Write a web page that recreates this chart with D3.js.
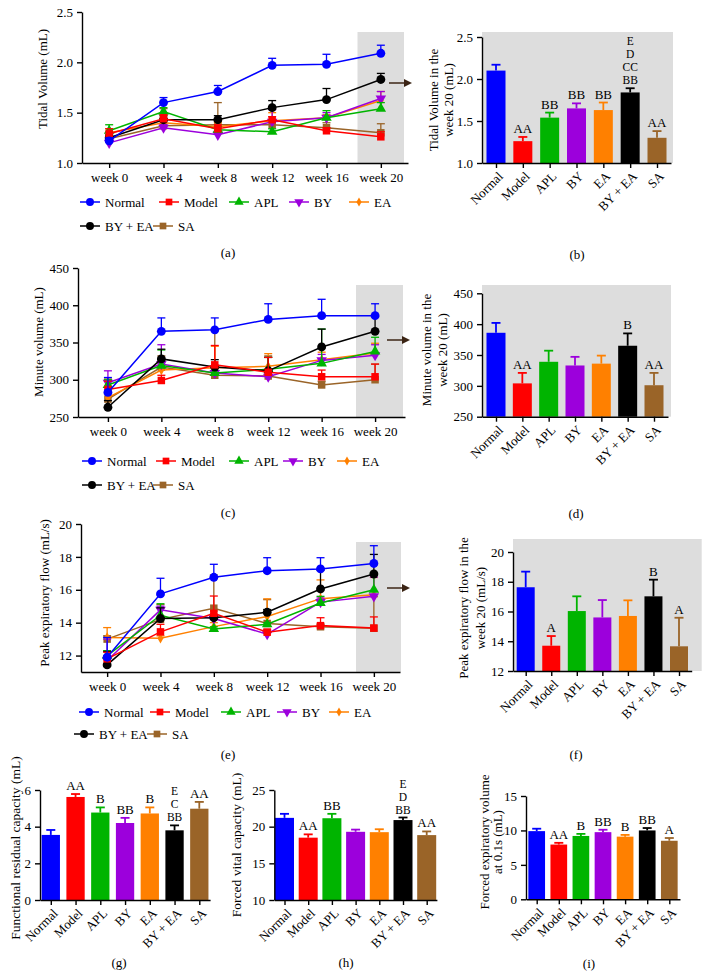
<!DOCTYPE html>
<html><head><meta charset="utf-8">
<script src="https://cdn.jsdelivr.net/npm/d3@7"></script>
<style>body{margin:0;background:#fff}</style>
</head><body><svg id="c" width="710" height="978"></svg>
<script>
// ---------------- DATA ----------------
const groups = ["Normal", "Model", "APL", "BY", "EA", "BY + EA", "SA"];
const groupColors = ["#0000ff", "#ff0000", "#00b400", "#9c00dc", "#ff8000", "#000000", "#9a6428"];
const weeks = ["week 0", "week 4", "week 8", "week 12", "week 16", "week 20"];

// (a) Tidal volume over time: rows = groups, cols = weeks
const tvMeans = [
  [1.22, 1.60, 1.71, 1.97, 1.98, 2.09],
  [1.29, 1.44, 1.34, 1.43, 1.32, 1.26],
  [1.32, 1.51, 1.33, 1.31, 1.45, 1.54],
  [1.20, 1.35, 1.28, 1.41, 1.45, 1.64],
  [1.30, 1.40, 1.36, 1.42, 1.45, 1.62],
  [1.25, 1.43, 1.43, 1.55, 1.63, 1.83],
  [1.24, 1.37, 1.38, 1.38, 1.35, 1.30]
];
const tvUpper = [
  [1.25, 1.65, 1.77, 2.04, 2.08, 2.17],
  [1.34, 1.48, 1.38, 1.46, 1.35, 1.31],
  [1.38, 1.55, 1.36, 1.34, 1.52, 1.60],
  [1.24, 1.38, 1.31, 1.53, 1.50, 1.71],
  [1.34, 1.44, 1.40, 1.50, 1.48, 1.71],
  [1.28, 1.47, 1.47, 1.62, 1.74, 1.89],
  [1.27, 1.54, 1.60, 1.42, 1.40, 1.39]
];
// (c) Minute volume over time
const mvMeans = [
  [283, 365, 367, 381, 386, 386],
  [287, 299, 320, 310, 304, 304],
  [293, 319, 309, 314, 322, 338],
  [296, 321, 309, 304, 326, 333],
  [276, 313, 316, 318, 327, 336],
  [263, 328, 317, 312, 344, 365],
  [274, 317, 306, 305, 293, 300]
];
const mvUpper = [
  [303, 383, 383, 402, 408, 402],
  [298, 306, 346, 330, 313, 321],
  [300, 340, 316, 330, 368, 357],
  [312, 347, 316, 310, 334, 347],
  [290, 324, 345, 335, 337, 349],
  [272, 341, 327, 330, 368, 385],
  [301, 332, 367, 332, 298, 321]
];
// (e) Peak expiratory flow over time
const pefMeans = [
  [11.90, 15.75, 16.76, 17.16, 17.27, 17.60],
  [11.80, 13.44, 14.57, 13.42, 13.82, 13.67],
  [12.00, 14.45, 13.62, 13.90, 15.20, 16.00],
  [11.70, 14.78, 14.25, 13.30, 15.25, 15.60],
  [13.10, 13.05, 13.76, 14.38, 15.46, 15.70],
  [11.43, 14.25, 14.30, 14.63, 16.05, 16.96],
  [13.00, 14.20, 14.88, 13.95, 13.75, 13.66]
];
const pefUpper = [
  [13.10, 16.70, 17.55, 17.95, 17.95, 18.68],
  [12.20, 13.90, 15.62, 13.60, 14.30, 14.35],
  [12.30, 15.15, 13.75, 14.00, 15.60, 17.00],
  [13.00, 15.00, 14.40, 13.50, 15.50, 16.77],
  [13.70, 13.20, 14.00, 15.45, 16.60, 16.75],
  [12.25, 14.90, 14.50, 14.80, 17.20, 18.15],
  [13.20, 15.10, 16.90, 15.40, 13.90, 15.58]
];
// (b) Tidal volume week 20
const tv20Mean = [2.10, 1.26, 1.54, 1.65, 1.63, 1.84, 1.30];
const tv20Upper = [2.17, 1.31, 1.60, 1.71, 1.72, 1.89, 1.38];
const tv20Sig = [[], ["AA"], ["BB"], ["BB"], ["BB"], ["BB", "CC", "D", "E"], ["AA"]];
// (d) Minute volume week 20
const mv20Mean = [386, 304, 339, 333, 336, 365, 301];
const mv20Upper = [402, 321, 357, 347, 349, 385, 321];
const mv20Sig = [[], ["AA"], [], [], [], ["B"], ["AA"]];
// (f) Peak expiratory flow week 20
const pef20Mean = [17.63, 13.70, 16.03, 15.60, 15.70, 17.02, 13.66];
const pef20Upper = [18.68, 14.35, 17.02, 16.77, 16.75, 18.14, 15.58];
const pef20Sig = [[], ["A"], [], [], [], ["B"], ["A"]];
// (g) Functional residual capacity
const frcMean = [3.55, 5.62, 4.77, 4.20, 4.72, 3.80, 4.98];
const frcUpper = [3.82, 5.78, 5.05, 4.48, 5.05, 4.07, 5.35];
const frcSig = [[], ["AA"], ["B"], ["BB"], ["B"], ["BB", "C", "E"], ["AA"]];
// (h) Forced vital capacity
const fvcMean = [21.20, 18.50, 21.15, 19.30, 19.25, 20.90, 18.85];
const fvcUpper = [21.75, 18.95, 21.75, 19.60, 19.65, 21.25, 19.35];
const fvcSig = [[], ["AA"], ["BB"], [], [], ["BB", "D", "E"], ["AA"]];
// (i) Forced expiratory volume at 0.1 s
const fevMean = [9.90, 7.95, 9.20, 9.75, 9.10, 10.00, 8.50];
const fevUpper = [10.25, 8.20, 9.50, 10.10, 9.35, 10.35, 8.90];
const fevSig = [[], ["AA"], ["B"], ["BB"], ["B"], ["BB"], ["A"]];

// ---------------- DRAWING ----------------
const FONT = '"Liberation Serif","Times New Roman",serif';
const svg = d3.select("#c");
const GRAY = "#dddddd";

const symTypes = [d3.symbolCircle, d3.symbolSquare, d3.symbolTriangle, d3.symbolTriangle, d3.symbolDiamond, d3.symbolCircle, d3.symbolSquare];
const symRot = [0, 0, 0, 180, 0, 0, 0];
const symSize = [62, 56, 48, 48, 30, 62, 56];
const drawOrder = [6, 4, 3, 2, 5, 1, 0];

function styleAxis(g, fs) {
  g.selectAll("path,line").attr("stroke", "#000").attr("stroke-width", 1.4);
  g.selectAll("text").attr("font-family", FONT).attr("font-size", fs || 13).attr("fill", "#000");
}
function txt(parent, x, y, s, opts) {
  opts = opts || {};
  return parent.append("text").attr("x", x).attr("y", y)
    .attr("font-family", FONT).attr("font-size", opts.fs || 13)
    .attr("text-anchor", opts.anchor || "middle").attr("fill", "#000").text(s);
}
function yLabel(lines, xs, cy, fs) {
  lines.forEach((s, i) => {
    svg.append("text").attr("transform", `translate(${xs[i]},${cy}) rotate(-90)`)
      .attr("font-family", FONT).attr("font-size", fs || 13).attr("text-anchor", "middle")
      .attr("dy", "0.35em").attr("fill", "#000").text(s);
  });
}
function arrow(x0, x1, y) {
  svg.append("line").attr("x1", x0).attr("x2", x1 - 7).attr("y1", y).attr("y2", y)
    .attr("stroke", "#3b2414").attr("stroke-width", 1.5);
  svg.append("path").attr("d", `M${x1 - 8},${y - 4} L${x1},${y} L${x1 - 8},${y + 4} Z`).attr("fill", "#3b2414");
}

function lineChart(c) {
  const g = svg.append("g");
  const x = d3.scalePoint(weeks, [c.L, c.R]).padding(c.pad);
  const y = d3.scaleLinear(c.domain, [c.yB, c.yT]);
  g.append("rect").attr("x", c.grayX0).attr("width", c.grayX1 - c.grayX0)
    .attr("y", c.grayTop).attr("height", c.yB - c.grayTop).attr("fill", GRAY);
  const ax = g.append("g").attr("transform", `translate(0,${c.yB})`)
    .call(d3.axisBottom(x).tickSize(5).tickSizeOuter(0).tickPadding(5));
  styleAxis(ax);
  const ay = g.append("g").attr("transform", `translate(${c.L},0)`)
    .call(d3.axisLeft(y).tickValues(c.ticks).tickFormat(d3.format(c.fmt)).tickSize(5).tickSizeOuter(0).tickPadding(4));
  styleAxis(ay);
  const line = d3.line().x((d, i) => x(weeks[i])).y(d => y(d));
  drawOrder.forEach(k => {
    const col = groupColors[k];
    const sg = g.append("g");
    c.means[k].forEach((m, i) => {
      const xx = x(weeks[i]), yt = y(c.upper[k][i]);
      sg.append("line").attr("x1", xx).attr("x2", xx).attr("y1", y(m)).attr("y2", yt).attr("stroke", col).attr("stroke-width", 1.3);
      sg.append("line").attr("x1", xx - 4).attr("x2", xx + 4).attr("y1", yt).attr("y2", yt).attr("stroke", col).attr("stroke-width", 1.3);
    });
    sg.append("path").attr("d", line(c.means[k])).attr("fill", "none").attr("stroke", col).attr("stroke-width", 1.5);
    c.means[k].forEach((m, i) => {
      sg.append("path").attr("d", d3.symbol(symTypes[k], symSize[k])())
        .attr("transform", `translate(${x(weeks[i])},${y(m)}) rotate(${symRot[k]})`).attr("fill", col);
    });
  });
  // legend
  groups.forEach((name, k) => {
    const mx = c.legX[k], my = k < 5 ? c.legY1 : c.legY2;
    g.append("line").attr("x1", mx - 10).attr("x2", mx + 10).attr("y1", my).attr("y2", my)
      .attr("stroke", groupColors[k]).attr("stroke-width", 1.5);
    g.append("path").attr("d", d3.symbol(symTypes[k], symSize[k] * 0.8)())
      .attr("transform", `translate(${mx},${my}) rotate(${symRot[k]})`).attr("fill", groupColors[k]);
    txt(g, mx + 15, my, name, { anchor: "start" }).attr("dy", "0.35em");
  });
  yLabel([c.ylabel], [c.ylx], c.yly);
  txt(svg, c.capX, c.capY, c.caption).attr("dy", "0.35em");
  arrow(c.arrow[0], c.arrow[1], c.arrow[2]);
}

function barChart(c) {
  const g = svg.append("g");
  const R = c.cN + (c.c0 - c.L);
  const step = (c.cN - c.c0) / 6;
  const x = d3.scalePoint(groups, [c.L, R]).padding((c.c0 - c.L) / step);
  const y = d3.scaleLinear(c.domain, [c.yB, c.yT]);
  if (c.gray) g.append("rect").attr("x", c.gray[0]).attr("width", c.gray[1] - c.gray[0])
    .attr("y", c.gray[2]).attr("height", c.yB - c.gray[2]).attr("fill", GRAY);
  groups.forEach((name, k) => {
    const cx = x(name), col = groupColors[k];
    g.append("rect").attr("x", cx - c.barW / 2).attr("width", c.barW)
      .attr("y", y(c.mean[k])).attr("height", c.yB - y(c.mean[k])).attr("fill", col);
    const yt = y(c.upper[k]);
    g.append("line").attr("x1", cx).attr("x2", cx).attr("y1", y(c.mean[k])).attr("y2", yt).attr("stroke", col).attr("stroke-width", 1.8);
    g.append("line").attr("x1", cx - 4.5).attr("x2", cx + 4.5).attr("y1", yt).attr("y2", yt).attr("stroke", col).attr("stroke-width", 1.8);
    const sig = c.sig[k];
    const single = sig.length === 1;
    sig.forEach((s, j) => {
      txt(g, cx, yt - 4 - j * 13, s, { fs: single ? 13 : 11.5 });
    });
  });
  const ax = g.append("g").attr("transform", `translate(0,${c.yB})`)
    .call(d3.axisBottom(x).tickSize(5).tickSizeOuter(0));
  styleAxis(ax);
  ax.selectAll("text").attr("x", 0).attr("y", 0).attr("dy", "0.35em")
    .attr("text-anchor", "end").attr("transform", "translate(4,11) rotate(-45)");
  const ay = g.append("g").attr("transform", `translate(${c.L},0)`)
    .call(d3.axisLeft(y).tickValues(c.ticks).tickFormat(d3.format(c.fmt)).tickSize(5).tickSizeOuter(0).tickPadding(4));
  styleAxis(ay);
  yLabel(c.ylabel, c.ylx, c.yly, c.ylfs);
  txt(svg, c.capX, c.capY, c.caption).attr("dy", "0.35em");
}

// (a)
lineChart({ L: 82, R: 408, pad: 0.5, domain: [1.0, 2.5], yB: 163, yT: 12, ticks: [1.0, 1.5, 2.0, 2.5], fmt: ".1f",
  means: tvMeans, upper: tvUpper, grayX0: 357.5, grayX1: 404, grayTop: 32,
  legX: [90, 169, 239, 299, 359, 90, 163], legY1: 202, legY2: 226,
  ylabel: "Tidal Volume (mL)", ylx: 42, yly: 79, caption: "(a)", capX: 228, capY: 252, arrow: [389, 412, 83] });
// (c)
lineChart({ L: 78, R: 405, pad: 0.56, domain: [250, 450], yB: 417, yT: 268, ticks: [250, 300, 350, 400, 450], fmt: "d",
  means: mvMeans, upper: mvUpper, grayX0: 356, grayX1: 403, grayTop: 285,
  legX: [92, 166, 239, 293, 347, 92, 163], legY1: 461, legY2: 485,
  ylabel: "Minute volume (mL)", ylx: 38, yly: 342, caption: "(c)", capX: 228, capY: 512, arrow: [387, 410, 340] });
// (e)
lineChart({ L: 81, R: 400, pad: 0.49, domain: [11, 20], yB: 672, yT: 524, ticks: [12, 14, 16, 18, 20], fmt: "d",
  means: pefMeans, upper: pefUpper, grayX0: 356, grayX1: 401, grayTop: 542,
  legX: [89, 160, 231, 287, 339, 84, 157], legY1: 712, legY2: 734,
  ylabel: "Peak expiratory flow (mL/s)", ylx: 44, yly: 593, caption: "(e)", capX: 228, capY: 754, arrow: [387, 410, 588] });

// (b)
barChart({ L: 482, c0: 496, cN: 657, barW: 19, domain: [1.0, 2.5], yB: 163, yT: 37, ticks: [1.0, 1.5, 2.0, 2.5], fmt: ".1f",
  mean: tv20Mean, upper: tv20Upper, sig: tv20Sig, gray: [482, 673, 32],
  ylabel: ["Tidal Volume in the", "week 20 (mL)"], ylx: [433, 448], yly: 100, caption: "(b)", capX: 577, capY: 254 });
// (d)
barChart({ L: 482, c0: 496, cN: 654, barW: 19, domain: [250, 450], yB: 416.7, yT: 293.3, ticks: [250, 300, 350, 400, 450], fmt: "d",
  mean: mv20Mean, upper: mv20Upper, sig: mv20Sig, gray: [482, 671, 285],
  ylabel: ["Minute volume in the", "week 20 (mL)"], ylx: [426, 442], yly: 350, caption: "(d)", capX: 576, capY: 513 });
// (f)
barChart({ L: 513, c0: 525.7, cN: 679, barW: 18, domain: [12, 20], yB: 671, yT: 552, ticks: [12, 14, 16, 18, 20], fmt: "d",
  mean: pef20Mean, upper: pef20Upper, sig: pef20Sig, gray: [513, 701.7, 539],
  ylabel: ["Peak expiratory flow in the", "week 20 (mL/s)"], ylx: [463, 480], yly: 608, caption: "(f)", capX: 576, capY: 754 });
// (g)
barChart({ L: 40, c0: 50.8, cN: 199.3, barW: 18.3, domain: [0, 6], yB: 900, yT: 790, ticks: [0, 2, 4, 6], fmt: "d",
  mean: frcMean, upper: frcUpper, sig: frcSig,
  ylabel: ["Functional residual capacity (mL)"], ylx: [15], yly: 848, ylfs: 13.5, caption: "(g)", capX: 119, capY: 962 });
// (h)
barChart({ L: 274.3, c0: 284.5, cN: 426.7, barW: 19, domain: [10, 25], yB: 900, yT: 790, ticks: [10, 15, 20, 25], fmt: "d",
  mean: fvcMean, upper: fvcUpper, sig: fvcSig,
  ylabel: ["Forced vital capacity (mL)"], ylx: [236], yly: 845, ylfs: 13.5, caption: "(h)", capX: 346, capY: 962 });
// (i)
barChart({ L: 526, c0: 536.7, cN: 669.3, barW: 16.7, domain: [0, 15], yB: 899.3, yT: 796, ticks: [0, 5, 10, 15], fmt: "d",
  mean: fevMean, upper: fevUpper, sig: fevSig,
  ylabel: ["Forced expiratory volume", "at 0.1s (mL)"], ylx: [484, 497], yly: 842, caption: "(i)", capX: 589, capY: 963 });
</script>
</body></html>
